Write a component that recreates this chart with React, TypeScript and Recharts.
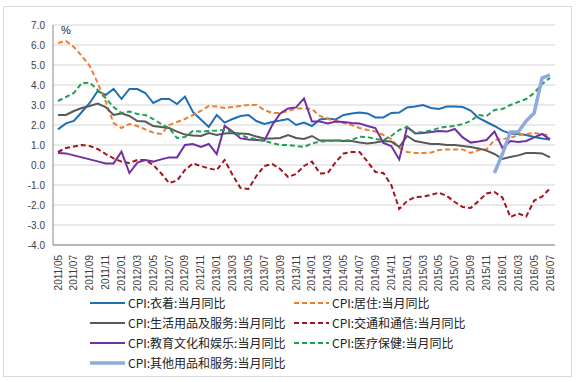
import { LineChart, Line, XAxis, YAxis, CartesianGrid } from 'recharts'

// ── Data ──────────────────────────────────────────────────────────────────────

const MONTHS = [
  '2011/05', '2011/06', '2011/07', '2011/08', '2011/09', '2011/10', '2011/11', '2011/12',
  '2012/01', '2012/02', '2012/03', '2012/04', '2012/05', '2012/06', '2012/07', '2012/08',
  '2012/09', '2012/10', '2012/11', '2012/12',
  '2013/01', '2013/02', '2013/03', '2013/04', '2013/05', '2013/06', '2013/07', '2013/08',
  '2013/09', '2013/10', '2013/11', '2013/12',
  '2014/01', '2014/02', '2014/03', '2014/04', '2014/05', '2014/06', '2014/07', '2014/08',
  '2014/09', '2014/10', '2014/11', '2014/12',
  '2015/01', '2015/02', '2015/03', '2015/04', '2015/05', '2015/06', '2015/07', '2015/08',
  '2015/09', '2015/10', '2015/11', '2015/12',
  '2016/01', '2016/02', '2016/03', '2016/04', '2016/05', '2016/06', '2016/07',
]

// CPI:衣着
const CLOTHING = [
  1.78, 2.08, 2.2, 2.65, 3.1, 3.7, 3.5, 3.8,
  3.3, 3.8, 3.8, 3.6, 3.1, 3.3, 3.3, 3.05, 3.42, 2.65, 2.28, 1.9,
  2.5, 2.12, 2.3, 2.45, 2.5, 2.2, 2.05, 2.15, 2.22, 2.3, 2.0, 2.12,
  1.95, 2.28, 2.33, 2.28, 2.5, 2.58, 2.62, 2.58, 2.38, 2.38, 2.6, 2.62,
  2.88, 2.92, 3.0, 2.85, 2.8, 2.92, 2.92, 2.9, 2.72, 2.35, 2.15, 1.95,
  1.72, 1.57, 1.55, 1.5, 1.4, 1.33, 1.28,
]

// CPI:居住
const HOUSING = [
  6.1, 6.2, 5.9, 5.45, 4.95, 4.1, 3.2, 2.1,
  1.85, 2.05, 1.95, 1.78, 1.62, 1.55, 2.0, 2.15, 2.3, 2.5, 2.7, 2.95,
  2.92, 2.85, 2.9, 2.95, 3.0, 3.0, 2.75, 2.6, 2.6, 2.7, 2.83, 2.83,
  2.8, 2.45, 2.3, 2.2, 2.1, 2.0, 1.85, 1.75, 1.68, 1.5, 1.3, 0.85,
  0.65, 0.6, 0.6, 0.62, 0.75, 0.78, 0.78, 0.78, 0.6, 0.75, 0.78, 1.25,
  1.3, 1.35, 1.5, 1.55, 1.6, 1.55, 1.45,
]

// CPI:生活用品及服务
const HOUSEHOLD = [
  2.5, 2.5, 2.7, 2.85, 2.95, 3.07, 2.9, 2.5,
  2.58, 2.45, 2.2, 2.17, 1.95, 1.9, 1.85, 1.67, 1.52, 1.48, 1.45, 1.6,
  1.5, 1.58, 1.6, 1.58, 1.55, 1.42, 1.33, 1.33, 1.35, 1.5, 1.35, 1.3,
  1.45, 1.22, 1.22, 1.22, 1.2, 1.2, 1.13, 1.08, 1.12, 1.2, 1.17, 0.9,
  1.45, 1.2, 1.12, 1.05, 1.05, 1.0, 1.0, 0.95, 0.9, 0.83, 0.72, 0.55,
  0.3, 0.4, 0.48, 0.6, 0.6, 0.58, 0.38,
]

// CPI:交通和通信
const TRANSPORT = [
  0.65, 0.85, 0.92, 1.0, 0.95, 0.8, 0.55, 0.33,
  0.17, 0.1, 0.25, 0.25, 0.0, -0.42, -0.9, -0.78, -0.25, 0.08, -0.05, -0.17,
  -0.25, 0.25, -0.5, -1.15, -1.2, -0.55, -0.05, 0.05, -0.2, -0.6, -0.45, -0.05,
  0.17, -0.42, -0.4, 0.15, 0.58, 0.65, 0.65, 0.17, -0.35, -0.4, -1.0, -2.2,
  -1.8, -1.6, -1.58, -1.5, -1.38, -1.55, -1.85, -2.1, -2.15, -1.8, -1.42, -1.35,
  -1.62, -2.6, -2.42, -2.58, -1.78, -1.58, -1.17,
]

// CPI:教育文化和娱乐
const EDUCATION = [
  0.6, 0.58, 0.48, 0.38, 0.28, 0.18, 0.08, 0.08,
  0.67, -0.4, 0.12, 0.25, 0.17, 0.28, 0.38, 0.38, 1.0, 1.05, 0.9, 1.05,
  0.55, 1.95, 1.67, 1.33, 1.28, 1.25, 1.22, 2.0, 2.58, 2.83, 2.88, 3.33,
  2.17, 2.17, 2.08, 2.17, 2.15, 2.1, 2.08, 1.95, 1.85, 1.1, 0.95, 0.28,
  1.9, 1.58, 1.6, 1.65, 1.7, 1.67, 1.8, 1.38, 1.12, 1.17, 1.25, 1.67,
  0.85, 1.2, 1.15, 1.2, 1.38, 1.55, 1.28,
]

// CPI:医疗保健
const HEALTH = [
  3.2, 3.4, 3.6, 4.1, 4.12, 3.75, 3.35, 2.9,
  2.6, 2.67, 2.55, 2.5, 2.3, 2.05, 1.85, 1.35, 1.4, 1.7, 1.68, 1.7,
  1.72, 1.75, 1.65, 1.5, 1.35, 1.3, 1.2, 1.1, 1.0, 1.0, 0.95, 0.9,
  1.08, 1.17, 1.2, 1.22, 1.22, 1.25, 1.42, 1.4, 1.3, 1.25, 1.45, 1.75,
  1.9, 1.6, 1.65, 1.72, 1.85, 1.92, 1.95, 2.05, 2.2, 2.5, 2.45, 2.75,
  2.8, 3.0, 3.15, 3.3, 3.6, 4.05, 4.35,
]

// CPI:其他用品和服务 (starts 2015/12)
const OTHER = [
  null, null, null, null, null, null, null, null,
  null, null, null, null, null, null, null, null, null, null, null, null,
  null, null, null, null, null, null, null, null, null, null, null, null,
  null, null, null, null, null, null, null, null, null, null, null, null,
  null, null, null, null, null, null, null, null, null, null, null, -0.4,
  0.55, 1.65, 1.65, 2.2, 2.6, 4.35, 4.5,
]

const Y_TICKS = [-4, -3, -2, -1, 0, 1, 2, 3, 4, 5, 6, 7]

const SERIES = [
  { key: 'clothing', name: 'CPI:衣着:当月同比', values: CLOTHING, color: '#1f6fb6', dash: undefined, width: 2 },
  { key: 'housing', name: 'CPI:居住:当月同比', values: HOUSING, color: '#ed7d31', dash: '5 3', width: 2 },
  { key: 'household', name: 'CPI:生活用品及服务:当月同比', values: HOUSEHOLD, color: '#595959', dash: undefined, width: 2 },
  { key: 'transport', name: 'CPI:交通和通信:当月同比', values: TRANSPORT, color: '#a3141c', dash: '5 3', width: 2 },
  { key: 'education', name: 'CPI:教育文化和娱乐:当月同比', values: EDUCATION, color: '#7030a0', dash: undefined, width: 2 },
  { key: 'health', name: 'CPI:医疗保健:当月同比', values: HEALTH, color: '#22a052', dash: '5 3', width: 2 },
  { key: 'other', name: 'CPI:其他用品和服务:当月同比', values: OTHER, color: '#8faadc', dash: undefined, width: 3.5 },
]

const data = MONTHS.map((month, i) => {
  const row: Record<string, string | number | null> = { month }
  SERIES.forEach((s) => {
    row[s.key] = s.values[i]
  })
  return row
})

// ── Pieces ────────────────────────────────────────────────────────────────────

const AXIS_FONT = 'Arial, "Liberation Sans", sans-serif'
const FRAME = '#868686'

function MonthTick({ x, y, payload }: any) {
  return (
    <text
      x={x}
      y={y + 2}
      transform={`rotate(-90, ${x}, ${y + 2})`}
      textAnchor="end"
      dy="0.35em"
      fontSize={10}
      fontFamily={AXIS_FONT}
      fill="#404040"
    >
      {payload.value}
    </text>
  )
}

function LegendBox() {
  return (
    <div
      style={{
        position: 'absolute',
        left: 90,
        top: 293,
        display: 'grid',
        gridTemplateColumns: '204px 240px',
        rowGap: 0,
        fontFamily: '"Noto Sans CJK SC", sans-serif',
        fontSize: 12,
        color: '#222',
      }}
    >
      {SERIES.map((s) => (
        <div key={s.key} style={{ display: 'flex', alignItems: 'center', height: 20 }}>
          <svg width={38} height={8} style={{ flex: 'none' }}>
            <line
              x1={0}
              y1={4}
              x2={35}
              y2={4}
              stroke={s.color}
              strokeWidth={s.width === 2 ? 2 : 3.5}
              strokeDasharray={s.dash}
            />
          </svg>
          <span style={{ whiteSpace: 'nowrap', lineHeight: '20px' }}>{s.name}</span>
        </div>
      ))}
    </div>
  )
}

// ── App ───────────────────────────────────────────────────────────────────────

export default function App() {
  return (
    <div style={{ position: 'absolute', left: 0, top: 0, width: 583, height: 382, background: '#fff' }}>
      <div
        style={{
          position: 'absolute',
          left: 3,
          top: 6,
          width: 569,
          height: 371,
          border: '1px solid #d9d9d9',
          boxSizing: 'border-box',
        }}
      />
      <LineChart
        width={583}
        height={382}
        data={data}
        margin={{ top: 25, right: 28, bottom: 87, left: 0 }}
        style={{ position: 'absolute', left: 0, top: 0 }}
      >
        <CartesianGrid horizontal vertical={false} stroke="#d4d4d4" strokeWidth={1.2} />
        <XAxis
          dataKey="month"
          interval={1}
          tick={<MonthTick />}
          tickLine={false}
          axisLine={{ stroke: FRAME }}
          padding={{ left: 5, right: 5 }}
          height={50}
        />
        <XAxis
          xAxisId="frame"
          dataKey="month"
          orientation="top"
          tick={false}
          tickLine={false}
          axisLine={{ stroke: FRAME }}
          height={0}
        />
        <YAxis
          domain={[-4, 7]}
          ticks={Y_TICKS}
          interval={0}
          tickFormatter={(v: number) => v.toFixed(1)}
          tick={{ fontSize: 10, fill: '#404040', fontFamily: AXIS_FONT }}
          tickLine={false}
          axisLine={{ stroke: FRAME }}
          width={53}
        />
        <YAxis
          yAxisId="frame"
          orientation="right"
          domain={[-4, 7]}
          tick={false}
          tickLine={false}
          axisLine={{ stroke: FRAME }}
          width={0}
        />
        {SERIES.map((s) => (
          <Line
            key={s.key}
            dataKey={s.key}
            name={s.name}
            type="linear"
            stroke={s.color}
            strokeWidth={s.width}
            strokeDasharray={s.dash}
            dot={false}
            activeDot={false}
            connectNulls={false}
            isAnimationActive={false}
          />
        ))}
      </LineChart>
      <div
        style={{
          position: 'absolute',
          left: 61,
          top: 24,
          fontSize: 11,
          fontFamily: AXIS_FONT,
          color: '#222',
        }}
      >
        %
      </div>
      <LegendBox />
    </div>
  )
}
